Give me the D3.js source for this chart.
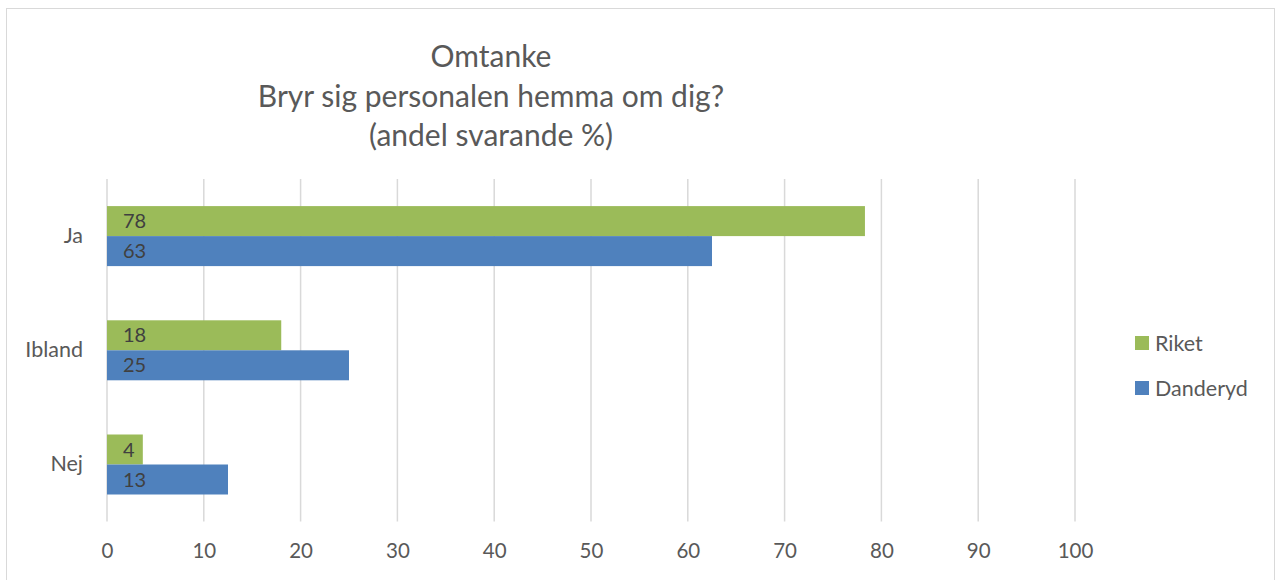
<!DOCTYPE html>
<html>
<head>
<meta charset="utf-8">
<script src="https://cdn.jsdelivr.net/npm/d3@7"></script>
<style>
  body { margin: 0; background: #fff; }
  svg { display: block; font-family: Lato, "Open Sans", sans-serif; }
</style>
</head>
<body>
<div class="chart"></div>
<script>
// data
var categories = ["Ja", "Ibland", "Nej"];
var seriesNames = ["Riket", "Danderyd"];
var riket = [78.3, 18.0, 3.7];
var danderyd = [62.5, 25.0, 12.5];
var xTicks = [0, 10, 20, 30, 40, 50, 60, 70, 80, 90, 100];
var titleLines = ["Omtanke", "Bryr sig personalen hemma om dig?", "(andel svarande %)"];

var colors = {"Riket": "#9BBB59", "Danderyd": "#4F81BD"};
var W = 1276, H = 580;

var rows = categories.map(function(c, i) {
  return {cat: c, Riket: riket[i], Danderyd: danderyd[i]};
});

var svg = d3.select(".chart").append("svg")
  .attr("width", W)
  .attr("height", H);

// chart frame
svg.append("rect")
  .attr("x", 6.5).attr("y", 8.5)
  .attr("width", W - 8).attr("height", H)
  .attr("fill", "#fff")
  .attr("stroke", "#d9d9d9")
  .attr("stroke-width", 1);

var title = svg.append("text")
  .attr("text-anchor", "middle")
  .attr("fill", "#595959")
  .style("font-size", "30px");
title.selectAll("tspan")
  .data(titleLines)
  .enter().append("tspan")
    .attr("x", 491)
    .attr("y", function(d, i) { return 67 + i * 39.5; })
    .text(function(d) { return d; });

var x = d3.scaleLinear().domain([0, 100]).range([107, 1075]);
var y = d3.scaleBand()
  .domain(categories)
  .range([179, 521.6])
  .paddingInner(0.4746)
  .paddingOuter(0.2373);
var y1 = d3.scaleBand()
  .domain(seriesNames)
  .range([0, y.bandwidth()]);

// gridlines
svg.append("g")
  .selectAll("line")
  .data(xTicks)
  .enter().append("line")
    .attr("x1", function(d) { return x(d); })
    .attr("x2", function(d) { return x(d); })
    .attr("y1", 179)
    .attr("y2", 521.6)
    .attr("stroke", "#d9d9d9")
    .attr("stroke-width", 1.5);

// x axis labels
var xAxis = svg.append("g")
  .attr("transform", "translate(0,521.6)")
  .call(d3.axisBottom(x).tickValues(xTicks).tickSize(0).tickPadding(22));
xAxis.select(".domain").remove();
xAxis.selectAll("text")
  .attr("fill", "#595959")
  .style("font-size", "20.5px")
  .style("font-family", "Lato, sans-serif");

// y axis labels
var yAxis = svg.append("g")
  .attr("transform", "translate(107,0)")
  .call(d3.axisLeft(y).tickSize(0).tickPadding(24));
yAxis.select(".domain").remove();
yAxis.selectAll("text")
  .attr("fill", "#595959")
  .style("font-size", "21.5px")
  .style("font-family", "Lato, sans-serif");

var groups = svg.selectAll(".grp")
  .data(rows)
  .enter().append("g")
    .attr("class", "grp")
    .attr("transform", function(d) { return "translate(0," + y(d.cat) + ")"; });

var bars = groups.selectAll(".bar")
  .data(function(d) { return seriesNames.map(function(k) { return {key: k, value: d[k]}; }); })
  .enter().append("g")
    .attr("class", "bar");

bars.append("rect")
  .attr("x", x(0))
  .attr("y", function(d) { return y1(d.key); })
  .attr("width", function(d) { return x(d.value) - x(0); })
  .attr("height", y1.bandwidth())
  .attr("fill", function(d) { return colors[d.key]; });

bars.append("text")
  .attr("x", x(0) + 16)
  .attr("y", function(d) { return y1(d.key) + y1.bandwidth() / 2; })
  .attr("dy", "0.36em")
  .attr("fill", "#404040")
  .style("font-size", "20px")
  .text(function(d) { return d3.format(".0f")(d.value); });

// legend
var legend = svg.selectAll(".legend")
  .data(seriesNames)
  .enter().append("g")
    .attr("class", "legend")
    .attr("transform", function(d, i) { return "translate(1135," + (343 + i * 45) + ")"; });

legend.append("rect")
  .attr("x", 0)
  .attr("y", -7)
  .attr("width", 14)
  .attr("height", 14)
  .attr("fill", function(d) { return colors[d]; });

legend.append("text")
  .attr("x", 20)
  .attr("dy", "0.36em")
  .attr("fill", "#595959")
  .style("font-size", "21.5px")
  .text(function(d) { return d; });
</script>
</body>
</html>
